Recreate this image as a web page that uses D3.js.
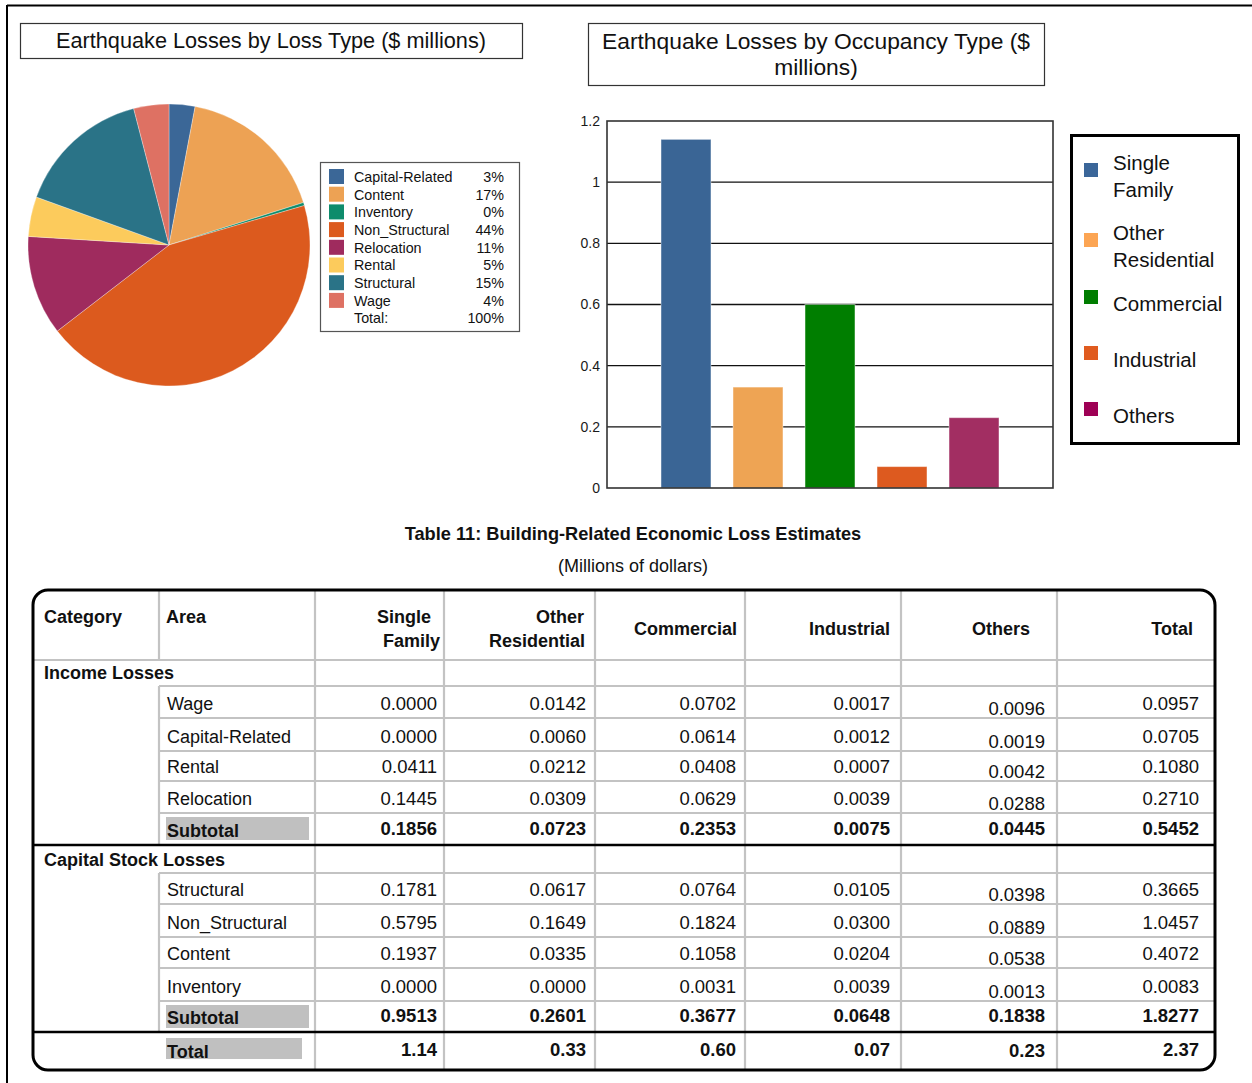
<!DOCTYPE html>
<html>
<head>
<meta charset="utf-8">
<script src="https://cdn.jsdelivr.net/npm/d3@7"></script>
<style>
  html, body { margin: 0; padding: 0; background: #fff; }
  svg { display: block; font-family: "Liberation Sans", Arial, Helvetica, sans-serif; }
</style>
</head>
<body>
<svg id="chart" width="1252" height="1083"></svg>
<script>
// ---- Loss types (building-related totals, $ millions) ----
const lossTypes  = ["Capital-Related", "Content", "Inventory", "Non_Structural", "Relocation", "Rental", "Structural", "Wage"];
const lossTotals = [0.0705, 0.4072, 0.0083, 1.0457, 0.2710, 0.1080, 0.3665, 0.0957];
const lossColors = ["#3b6797", "#eda254", "#0e8c6c", "#dc5a1e", "#9f2b5e", "#fccb5c", "#2a7387", "#de7163"];

// ---- Occupancy types ($ millions) ----
const occupancyTypes  = ["Single Family", "Other Residential", "Commercial", "Industrial", "Others"];
const occupancyTotals = [1.14, 0.33, 0.60, 0.07, 0.23];
const occupancyColors = ["#3a6595", "#eea454", "#007e00", "#dd5a1f", "#a22e62"];
const occupancyLegendColors = ["#3b6699", "#fca553", "#007d00", "#e05b1f", "#9e0055"];
const yTicks = [0, 0.2, 0.4, 0.6, 0.8, 1, 1.2];

// ---- Table 11 ----
const tableColumns  = ["Single Family", "Other Residential", "Commercial", "Industrial", "Others", "Total"];
const incomeAreas   = ["Wage", "Capital-Related", "Rental", "Relocation"];
const incomeValues  = [
  [0.0000, 0.0142, 0.0702, 0.0017, 0.0096, 0.0957],
  [0.0000, 0.0060, 0.0614, 0.0012, 0.0019, 0.0705],
  [0.0411, 0.0212, 0.0408, 0.0007, 0.0042, 0.1080],
  [0.1445, 0.0309, 0.0629, 0.0039, 0.0288, 0.2710]
];
const incomeSubtotal = [0.1856, 0.0723, 0.2353, 0.0075, 0.0445, 0.5452];
const capitalAreas   = ["Structural", "Non_Structural", "Content", "Inventory"];
const capitalValues  = [
  [0.1781, 0.0617, 0.0764, 0.0105, 0.0398, 0.3665],
  [0.5795, 0.1649, 0.1824, 0.0300, 0.0889, 1.0457],
  [0.1937, 0.0335, 0.1058, 0.0204, 0.0538, 0.4072],
  [0.0000, 0.0000, 0.0031, 0.0039, 0.0013, 0.0083]
];
const capitalSubtotal = [0.9513, 0.2601, 0.3677, 0.0648, 0.1838, 1.8277];
const grandTotal      = [1.14, 0.33, 0.60, 0.07, 0.23, 2.37];

const svg = d3.select("#chart");
const INK = "#111";

// page frame (top and left rules)
svg.append("line").attr("x1", 7).attr("y1", 5.5).attr("x2", 1252).attr("y2", 5.5)
  .attr("stroke", "#000").attr("stroke-width", 2);
svg.append("line").attr("x1", 7).attr("y1", 5).attr("x2", 7).attr("y2", 1083)
  .attr("stroke", "#000").attr("stroke-width", 2);

// ================= PIE: losses by loss type =================
function titleBox(x, y, w, h, lines, size, lineGap) {
  svg.append("rect").attr("x", x + 0.5).attr("y", y + 0.5).attr("width", w).attr("height", h)
    .attr("fill", "#fff").attr("stroke", "#333").attr("stroke-width", 1.2);
  const t = svg.append("text").attr("text-anchor", "middle").attr("fill", INK)
    .attr("font-size", size);
  lines.forEach((s, i) => {
    t.append("tspan").attr("x", x + w / 2)
      .attr("y", y + h / 2 + size * 0.36 - (lines.length - 1) * lineGap / 2 + i * lineGap)
      .text(s);
  });
}
titleBox(20, 23, 502, 35, ["Earthquake Losses by Loss Type ($ millions)"], 21.7, 0);

const pieCx = 169, pieCy = 245, pieR = 141;
const pie = d3.pie().sort(null).value(d => d);
const arc = d3.arc().innerRadius(0).outerRadius(pieR);
svg.append("g").attr("transform", `translate(${pieCx},${pieCy})`)
  .selectAll("path").data(pie(lossTotals)).join("path")
  .attr("d", arc)
  .attr("fill", (d, i) => lossColors[i])
  .attr("stroke", "#fff").attr("stroke-opacity", 0.5).attr("stroke-width", 0.6);

// pie legend
const lossSum = d3.sum(lossTotals);
const pct = d3.format(".0%");
const lg = svg.append("g");
lg.append("rect").attr("x", 320.5).attr("y", 162.5).attr("width", 199).attr("height", 169)
  .attr("fill", "#fff").attr("stroke", "#555").attr("stroke-width", 1.2);
const rowStep = 17.7;
const LEG_FONT = 14.3;
lossTypes.forEach((name, i) => {
  const yTop = 169 + i * rowStep;
  lg.append("rect").attr("x", 329).attr("y", yTop).attr("width", 15).attr("height", 15)
    .attr("fill", lossColors[i]);
  lg.append("text").attr("x", 354).attr("y", yTop + 12.8).attr("font-size", LEG_FONT).attr("fill", INK)
    .text(name);
  lg.append("text").attr("x", 504).attr("y", yTop + 12.8).attr("font-size", LEG_FONT).attr("fill", INK)
    .attr("text-anchor", "end").text(pct(lossTotals[i] / lossSum));
});
lg.append("text").attr("x", 354).attr("y", 169 + 8 * rowStep + 12.8).attr("font-size", LEG_FONT)
  .attr("fill", INK).text("Total:");
lg.append("text").attr("x", 504).attr("y", 169 + 8 * rowStep + 12.8).attr("font-size", LEG_FONT)
  .attr("fill", INK).attr("text-anchor", "end").text(pct(1));

// ================= BAR: losses by occupancy type =================
titleBox(588, 23, 456, 62, ["Earthquake Losses by Occupancy Type ($", "millions)"], 22.8, 26);

const plot = { x0: 607, x1: 1053, y0: 121, y1: 488 };
const x = d3.scaleBand().domain(occupancyTypes).range([plot.x0, plot.x1])
  .paddingInner(0.306).paddingOuter(0.75);
const y = d3.scaleLinear().domain([0, 1.2]).range([plot.y1, plot.y0]);

// horizontal grid
svg.append("g").selectAll("line").data(yTicks.slice(1, -1)).join("line")
  .attr("x1", plot.x0).attr("x2", plot.x1)
  .attr("y1", d => y(d)).attr("y2", d => y(d))
  .attr("stroke", "#111").attr("stroke-width", 1.4);

// bars
svg.append("g").selectAll("rect").data(occupancyTotals).join("rect")
  .attr("x", (d, i) => x(occupancyTypes[i]))
  .attr("width", x.bandwidth())
  .attr("y", d => y(d))
  .attr("height", d => y(0) - y(d))
  .attr("fill", (d, i) => occupancyColors[i])
  .attr("stroke", "#fff").attr("stroke-opacity", 0.45).attr("stroke-width", 1);

// frame
svg.append("rect").attr("x", plot.x0).attr("y", plot.y0)
  .attr("width", plot.x1 - plot.x0).attr("height", plot.y1 - plot.y0)
  .attr("fill", "none").attr("stroke", "#333").attr("stroke-width", 1.6);

// y axis labels
const yAxis = d3.axisLeft(y).tickValues(yTicks).tickSize(0).tickPadding(7)
  .tickFormat(d3.format("~g"));
const ya = svg.append("g").attr("transform", `translate(${plot.x0},0)`).call(yAxis);
ya.select(".domain").remove();
ya.selectAll("text").attr("font-size", 14).attr("fill", "#1a1a1a")
  .attr("font-family", "\"Liberation Sans\", Arial, sans-serif");

// bar legend
svg.append("rect").attr("x", 1071.5).attr("y", 135.5).attr("width", 167).attr("height", 308)
  .attr("fill", "#fff").attr("stroke", "#000").attr("stroke-width", 3);
const legendTops = [163, 233, 290, 346, 402];
const legendLines = [["Single", "Family"], ["Other", "Residential"], ["Commercial"], ["Industrial"], ["Others"]];
occupancyTypes.forEach((name, i) => {
  const top = legendTops[i];
  svg.append("rect").attr("x", 1084).attr("y", top).attr("width", 14).attr("height", 14)
    .attr("fill", occupancyLegendColors[i]);
  const lines = legendLines[i];
  const center = top + 13.5;
  const t = svg.append("text").attr("font-size", 20.5).attr("fill", INK);
  lines.forEach((s, j) => {
    t.append("tspan").attr("x", 1113)
      .attr("y", center + 7.4 - (lines.length - 1) * 13.5 + j * 27).text(s);
  });
});

// ================= TABLE 11 =================
svg.append("text").attr("x", 633).attr("y", 540).attr("text-anchor", "middle")
  .attr("font-size", 18.2).attr("font-weight", "bold").attr("fill", INK)
  .text("Table 11: Building-Related Economic Loss Estimates");
svg.append("text").attr("x", 633).attr("y", 572).attr("text-anchor", "middle")
  .attr("font-size", 18).attr("fill", INK).text("(Millions of dollars)");

const colX = [33, 159, 315, 444, 595, 745, 901, 1057, 1215];
const rowY = [590, 660, 686, 718, 751, 781, 813, 845, 873, 904, 937, 968, 1001, 1032, 1070];
const valueRight = [437, 586, 736, 890, 1045, 1199];
const headerRight = [440, 585, 737, 890, 1030, 1193];
const GRID = "#c3c3c3";
const fmt4 = d3.format(".4f"), fmt2 = d3.format(".2f");

// build row model
const rows = [{ kind: "header" }, { kind: "group", label: "Income Losses" }];
incomeAreas.forEach((a, i) => rows.push({ kind: "area", label: a, values: incomeValues[i] }));
rows.push({ kind: "subtotal", label: "Subtotal", values: incomeSubtotal });
rows.push({ kind: "group", label: "Capital Stock Losses" });
capitalAreas.forEach((a, i) => rows.push({ kind: "area", label: a, values: capitalValues[i] }));
rows.push({ kind: "subtotal", label: "Subtotal", values: capitalSubtotal });
rows.push({ kind: "total", label: "Total", values: grandTotal });

const tg = svg.append("g");
const line = (x1, y1, x2, y2, color, w) =>
  tg.append("line").attr("x1", x1).attr("y1", y1).attr("x2", x2).attr("y2", y2)
    .attr("stroke", color).attr("stroke-width", w);

// grey cell rules
rows.forEach((r, i) => {
  const top = rowY[i], bot = rowY[i + 1];
  for (let c = 2; c < colX.length - 1; c++) line(colX[c], top, colX[c], bot, GRID, 2.2);
  if (r.kind === "header" || r.kind === "area" || r.kind === "subtotal") line(colX[1], top, colX[1], bot, GRID, 2.2);
  if (r.kind === "header") line(colX[0], bot, colX[8], bot, GRID, 2.2);
  else if (r.kind === "group" || r.kind === "area") line(colX[1], bot, colX[8], bot, GRID, 2.2);
});
// heavy rules after subtotals
rows.forEach((r, i) => {
  if (r.kind === "subtotal") line(colX[0], rowY[i + 1], colX[8], rowY[i + 1], "#000", 2.6);
});
// outer rounded border
tg.append("rect").attr("x", colX[0]).attr("y", rowY[0])
  .attr("width", colX[8] - colX[0]).attr("height", rowY[rowY.length - 1] - rowY[0])
  .attr("rx", 15).attr("ry", 15)
  .attr("fill", "none").attr("stroke", "#000").attr("stroke-width", 3);

// cell text
const tt = svg.append("g").attr("fill", INK);
rows.forEach((r, i) => {
  const top = rowY[i], bot = rowY[i + 1];
  if (r.kind === "header") {
    const base = top + 33;
    tt.append("text").attr("x", 44).attr("y", base).attr("font-size", 18).attr("font-weight", "bold").text("Category");
    tt.append("text").attr("x", 166).attr("y", base).attr("font-size", 18).attr("font-weight", "bold").text("Area");
    tableColumns.forEach((name, c) => {
      const parts = name.split(" ");
      if (parts.length === 2) {
        tt.append("text").attr("x", headerRight[c] - (c === 0 ? 9 : 1)).attr("y", base)
          .attr("text-anchor", "end").attr("font-size", 18).attr("font-weight", "bold").text(parts[0]);
        tt.append("text").attr("x", headerRight[c]).attr("y", base + 24)
          .attr("text-anchor", "end").attr("font-size", 18).attr("font-weight", "bold").text(parts[1]);
      } else {
        tt.append("text").attr("x", headerRight[c]).attr("y", base + 12)
          .attr("text-anchor", "end").attr("font-size", 18).attr("font-weight", "bold").text(name);
      }
    });
    return;
  }
  if (r.kind === "group") {
    tt.append("text").attr("x", 44).attr("y", bot - 7).attr("font-size", 18).attr("font-weight", "bold").text(r.label);
    return;
  }
  const base = r.kind === "total" ? bot - 13 : bot - 9;
  const bold = r.kind !== "area";
  if (r.kind === "subtotal") {
    tg.append("rect").attr("x", 166).attr("y", top + 4).attr("width", 143).attr("height", 23).attr("fill", "#c0c0c0");
  } else if (r.kind === "total") {
    tg.append("rect").attr("x", 166).attr("y", top + 6).attr("width", 136).attr("height", 21).attr("fill", "#c0c0c0");
  }
  tt.append("text").attr("x", 167).attr("y", base + 1)
    .attr("font-size", 18).attr("font-weight", bold ? "bold" : "normal").text(r.label);
  const f = r.kind === "total" ? fmt2 : fmt4;
  r.values.forEach((v, c) => {
    const dy = (c === 4 && r.kind === "area") ? 5 : (c === 4 && r.kind === "total" ? 1 : 0);
    const lift = r.kind === "area" ? 0.5 : -1;
    tt.append("text").attr("x", valueRight[c]).attr("y", base + lift + dy)
      .attr("text-anchor", "end").attr("font-size", 18.5)
      .attr("font-weight", bold ? "bold" : "normal").text(f(v));
  });
});
</script>
</body>
</html>
